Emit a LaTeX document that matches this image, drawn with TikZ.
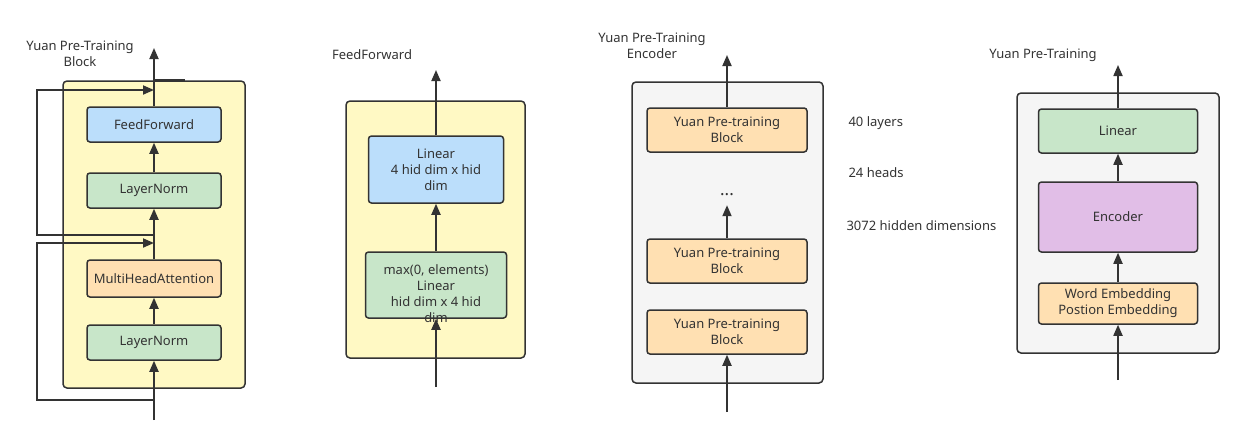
\documentclass[tikz,border=0pt]{standalone}
\usepackage{fontspec}
\setmainfont{Noto Sans}
\usetikzlibrary{arrows.meta}

\definecolor{ink}{HTML}{333333}
\definecolor{lemon}{HTML}{FFF9C4}
\definecolor{sky}{HTML}{BBDEFB}
\definecolor{mint}{HTML}{C8E6C9}
\definecolor{peach}{HTML}{FFE0B2}
\definecolor{lilac}{HTML}{E1BEE7}
\definecolor{smoke}{HTML}{F5F5F5}

\begin{document}
\begin{tikzpicture}[x=1pt,y=-1pt,
    font=\fontsize{13}{16}\selectfont, text=ink,
    frame/.style={draw=ink, line width=1.5pt, rounded corners=4pt},
    blk/.style={draw=ink, line width=1.5pt, rounded corners=3pt,
      minimum width=134pt, minimum height=35pt, inner sep=1pt, align=center},
    flow/.style={draw=ink, line width=1.8pt, -{Triangle[length=11pt,width=9pt]}},
    wire/.style={draw=ink, line width=1.8pt}]
    \useasboundingbox (0,0) rectangle (1244,445);

    % Yuan Pre-Training Block
    \node[align=center] (t1) at (80,54) {Yuan Pre-Training\\Block};
    \node[frame, fill=lemon, minimum width=182pt, minimum height=307pt] (fr1) at (154,234.5) {};
    \node[blk, fill=sky] (ff) at (154,124.5) {FeedForward};
    \node[blk, fill=mint] (ln2) at (154,190.5) {LayerNorm};
    \node[blk, fill=peach, minimum height=37pt] (mha) at (154,278.5) {MultiHeadAttention};
    \node[blk, fill=mint] (ln1) at (154,342.5) {LayerNorm};
    \coordinate (in1) at (154,420);
    \coordinate (out1) at (154,48);
    \coordinate (sk1) at (154,400);
    \coordinate (jn1) at (154,243);
    \coordinate (sk2) at (154,235);
    \coordinate (jn2) at (154,90);
    \draw[flow] (in1) -- (ln1);
    \draw[flow] (ln1) -- (mha);
    \draw[wire] (mha) -- (jn1);
    \draw[flow] (jn1) -- (ln2);
    \draw[flow] (ln2) -- (ff);
    \draw[flow] (ff) -- (out1);
    \draw[wire] (out1 |- fr1.north) -- ++(31,0);
    \draw[flow] (sk1) -- ++(-117,0) |- (jn1);
    \draw[flow] (sk2) -- ++(-117,0) |- (jn2);

    % FeedForward
    \node (t2) at (372,55) {FeedForward};
    \node[frame, fill=lemon, minimum width=179pt, minimum height=257pt] (fr2) at (435.5,229.5) {};
    \node[blk, fill=sky, minimum width=135pt, minimum height=67pt] (lin2) at (436,169.5)
      {Linear\\4 hid dim x hid\\dim};
    \node[blk, fill=mint, minimum width=141pt, minimum height=66pt,
      label={[align=center, yshift=-9pt]center:max(0, elements)\\Linear\\hid dim x 4 hid\\dim}] (relu) at (436,285) {};
    \coordinate (in2) at (436,387);
    \coordinate (out2) at (436,70);
    \draw[flow] (in2) -- (relu);
    \draw[flow] (relu) -- (lin2);
    \draw[flow] (lin2) -- (out2);

    % Yuan Pre-Training Encoder
    \node[align=center] (t3) at (652,46) {Yuan Pre-Training\\Encoder};
    \node[frame, fill=smoke, minimum width=191pt, minimum height=301pt] (fr3) at (727.5,232.5) {};
    \node[blk, fill=peach, minimum width=160pt, minimum height=44pt] (b3) at (727,130) {Yuan Pre-training\\Block};
    \node[inner sep=0pt, minimum height=20pt] (dots) at (727,195)
      {\fontsize{17}{17}\selectfont\textbf{...}};
    \node[blk, fill=peach, minimum width=160pt, minimum height=44pt] (b2) at (727,261) {Yuan Pre-training\\Block};
    \node[blk, fill=peach, minimum width=160pt, minimum height=44pt] (b1) at (727,332) {Yuan Pre-training\\Block};
    \coordinate (in3) at (727,412);
    \coordinate (out3) at (727,55);
    \draw[flow] (in3) -- (b1);
    \draw[flow] (b2) -- (dots);
    \draw[flow] (b3) -- (out3);
    \node[anchor=west] (nl) at (845,123) {40 layers};
    \node[anchor=west] (nh) at (845,173) {24 heads};
    \node[anchor=west] (nd) at (843,226) {3072 hidden dimensions};

    % Yuan Pre-Training
    \node (t4) at (1043,55) {Yuan Pre-Training};
    \node[frame, fill=smoke, minimum width=202pt, minimum height=260pt] (fr4) at (1118,223) {};
    \node[blk, fill=mint, minimum width=159pt, minimum height=44pt] (lin4) at (1118,131) {Linear};
    \node[blk, fill=lilac, minimum width=159pt, minimum height=70pt] (enc) at (1118,217) {Encoder};
    \node[blk, fill=peach, minimum width=159pt, minimum height=41pt] (emb) at (1118,303.5)
      {Word Embedding\\Postion Embedding};
    \coordinate (in4) at (1118,380);
    \coordinate (out4) at (1118,65);
    \draw[flow] (in4) -- (emb);
    \draw[flow] (emb) -- (enc);
    \draw[flow] (enc) -- (lin4);
    \draw[flow] (lin4) -- (out4);
\end{tikzpicture}
\end{document}
